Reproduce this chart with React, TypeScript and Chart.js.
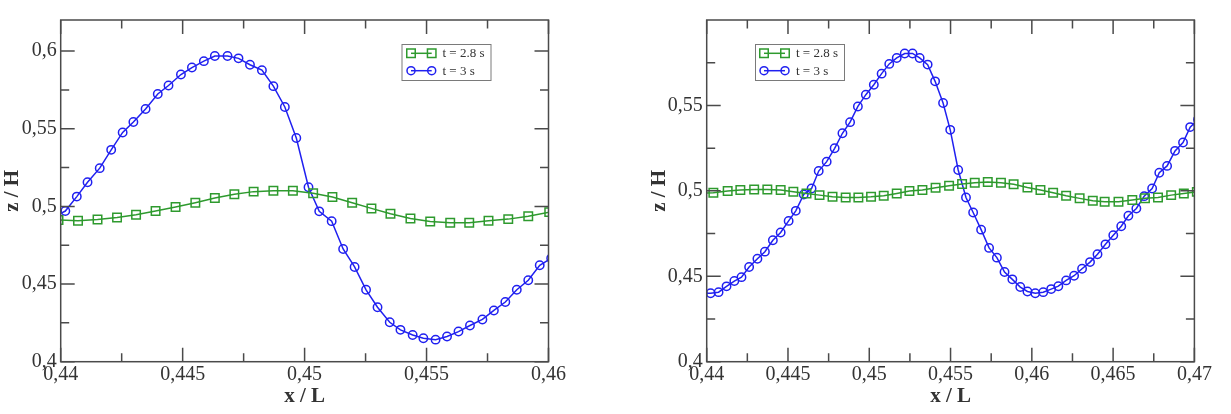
import React, { useEffect, useRef } from 'react';
import { Chart, registerables } from 'chart.js';

Chart.register(...registerables);

// ---------- data ----------
const LEGEND_LABELS = ['t = 2.8 s', 't = 3 s'];
const X_TITLE = 'x / L';
const Y_TITLE = 'z / H';

// Left panel
const LEFT_X_TICKS = [0.44, 0.445, 0.45, 0.455, 0.46];
const LEFT_X_MINOR = [0.4425, 0.4475, 0.4525, 0.4575];
const LEFT_Y_TICKS = [0.4, 0.45, 0.5, 0.55, 0.6];
const LEFT_Y_MINOR = [0.425, 0.475, 0.525, 0.575];

const LEFT_GREEN_X = [0.43991, 0.44071, 0.44151, 0.44231, 0.44309, 0.44389, 0.44471, 0.44552, 0.44632, 0.44712, 0.44791, 0.44872, 0.44952, 0.45035, 0.45114, 0.45195, 0.45274, 0.45352, 0.45434, 0.45515, 0.45597, 0.45675, 0.45754, 0.45835, 0.45917, 0.46003];
const LEFT_GREEN_Y = [0.4912, 0.4907, 0.4916, 0.4929, 0.4946, 0.4970, 0.4996, 0.5024, 0.5054, 0.5078, 0.5095, 0.5101, 0.5101, 0.5084, 0.5060, 0.5024, 0.4987, 0.4953, 0.4922, 0.4903, 0.4894, 0.4894, 0.4907, 0.4918, 0.4937, 0.4963];

const LEFT_BLUE_X = [0.43972, 0.44019, 0.44066, 0.44110, 0.44160, 0.44207, 0.44254, 0.44298, 0.44348, 0.44398, 0.44442, 0.44493, 0.44538, 0.44587, 0.44632, 0.44684, 0.44729, 0.44776, 0.44825, 0.44872, 0.44919, 0.44966, 0.45016, 0.45060, 0.45111, 0.45158, 0.45205, 0.45252, 0.45299, 0.45349, 0.45393, 0.45443, 0.45487, 0.45537, 0.45584, 0.45631, 0.45678, 0.45729, 0.45776, 0.45823, 0.45870, 0.45917, 0.45964, 0.46011];
const LEFT_BLUE_Y = [0.4933, 0.4970, 0.5063, 0.5155, 0.5246, 0.5364, 0.5476, 0.5543, 0.5627, 0.5724, 0.5778, 0.5849, 0.5894, 0.5935, 0.5968, 0.5968, 0.5953, 0.5912, 0.5877, 0.5774, 0.5640, 0.5440, 0.5123, 0.4968, 0.4905, 0.4726, 0.4610, 0.4463, 0.4351, 0.4254, 0.4205, 0.4172, 0.4151, 0.4142, 0.4162, 0.4194, 0.4233, 0.4272, 0.4330, 0.4384, 0.4463, 0.4524, 0.4621, 0.4666];

// Right panel
const RIGHT_X_TICKS = [0.44, 0.445, 0.45, 0.455, 0.46, 0.465, 0.47];
const RIGHT_X_MINOR = [0.4425, 0.4475, 0.4525, 0.4575, 0.4625, 0.4675];
const RIGHT_Y_TICKS = [0.4, 0.45, 0.5, 0.55];
const RIGHT_Y_MINOR = [0.425, 0.475, 0.525, 0.575];

const RIGHT_GREEN_X = [0.43961, 0.44041, 0.44129, 0.44207, 0.44292, 0.44373, 0.44455, 0.44533, 0.44614, 0.44694, 0.44774, 0.44855, 0.44933, 0.45011, 0.45089, 0.45169, 0.45247, 0.45327, 0.45408, 0.45491, 0.45571, 0.45649, 0.45729, 0.45810, 0.45888, 0.45973, 0.46053, 0.46131, 0.46211, 0.46294, 0.46375, 0.46448, 0.46533, 0.46618, 0.46696, 0.46776, 0.46857, 0.46935, 0.47015];
const RIGHT_GREEN_Y = [0.4985, 0.4989, 0.4999, 0.5005, 0.5008, 0.5008, 0.5005, 0.4995, 0.4985, 0.4975, 0.4965, 0.4961, 0.4961, 0.4965, 0.4971, 0.4985, 0.4999, 0.5005, 0.5018, 0.5030, 0.5040, 0.5048, 0.5052, 0.5048, 0.5038, 0.5020, 0.5005, 0.4989, 0.4971, 0.4956, 0.4942, 0.4936, 0.4936, 0.4946, 0.4956, 0.4961, 0.4975, 0.4985, 0.4994];

const RIGHT_BLUE_X = [0.43976, 0.44024, 0.44073, 0.44122, 0.44170, 0.44214, 0.44261, 0.44312, 0.44358, 0.44407, 0.44455, 0.44504, 0.44548, 0.44597, 0.44645, 0.44689, 0.44738, 0.44787, 0.44835, 0.44882, 0.44930, 0.44979, 0.45028, 0.45076, 0.45123, 0.45169, 0.45218, 0.45266, 0.45310, 0.45359, 0.45405, 0.45454, 0.45498, 0.45547, 0.45595, 0.45639, 0.45688, 0.45737, 0.45785, 0.45832, 0.45880, 0.45929, 0.45973, 0.46021, 0.46070, 0.46119, 0.46163, 0.46211, 0.46260, 0.46309, 0.46358, 0.46404, 0.46453, 0.46501, 0.46550, 0.46594, 0.46643, 0.46691, 0.46740, 0.46784, 0.46832, 0.46881, 0.46930, 0.46974, 0.47022];
const RIGHT_BLUE_Y = [0.4400, 0.4401, 0.4407, 0.4441, 0.4472, 0.4495, 0.4554, 0.4603, 0.4644, 0.4711, 0.4756, 0.4824, 0.4883, 0.4979, 0.5014, 0.5116, 0.5171, 0.5249, 0.5337, 0.5402, 0.5494, 0.5563, 0.5621, 0.5686, 0.5743, 0.5778, 0.5804, 0.5804, 0.5778, 0.5739, 0.5641, 0.5514, 0.5357, 0.5122, 0.4961, 0.4873, 0.4773, 0.4666, 0.4609, 0.4525, 0.4482, 0.4437, 0.4411, 0.4401, 0.4407, 0.4425, 0.4442, 0.4476, 0.4503, 0.4544, 0.4583, 0.4629, 0.4687, 0.4740, 0.4793, 0.4854, 0.4897, 0.4969, 0.5014, 0.5106, 0.5146, 0.5234, 0.5283, 0.5373, 0.5418];

// ---------- styles ----------
const SERIF = "'Liberation Serif', 'Times New Roman', serif";
const FRAME = '#4a4a4a';
const TEXT = '#333333';
const GREEN = '#2e9a2e';
const BLUE = '#2020f0';

const fmt = (v: number) => String(Number(Number(v).toFixed(4))).replace('.', ',');
const pts = (xs: number[], ys: number[]) => xs.map((x, i) => ({ x, y: ys[i] }));

type PanelCfg = {
  width: number;
  plotLeft: number;
  plotRight: number;
  plotTop: number;
  plotBottom: number;
  xMin: number; xMax: number; yMin: number; yMax: number;
  xTicks: number[]; xMinor: number[]; yTicks: number[]; yMinor: number[];
  greenX: number[]; greenY: number[]; blueX: number[]; blueY: number[];
  yTitleCenter: number;
  legend: { x: number; y: number; w: number; h: number; m1: number; m2: number; tx: number; rows: number[] };
};

function drawMarker(ctx: CanvasRenderingContext2D, kind: string, x: number, y: number) {
  ctx.beginPath();
  if (kind === 'rect') {
    const s = 4.25;
    ctx.rect(x - s, y - s, 2 * s, 2 * s);
  } else {
    ctx.arc(x, y, 4, 0, Math.PI * 2);
  }
  ctx.stroke();
}

function makeChart(canvas: HTMLCanvasElement, c: PanelCfg) {
  const H = 414;
  const framePlugin = {
    id: 'frameTicks',
    afterDraw(chart: any) {
      const { ctx, chartArea: a, scales } = chart;
      const xs = scales.x, ys = scales.y;
      ctx.save();
      ctx.strokeStyle = FRAME;
      ctx.lineWidth = 1.5;
      ctx.beginPath();
      const xt = (vals: number[], len: number) => {
        for (const v of vals) {
          const p = xs.getPixelForValue(v);
          ctx.moveTo(p, a.bottom); ctx.lineTo(p, a.bottom - len);
          ctx.moveTo(p, a.top); ctx.lineTo(p, a.top + len);
        }
      };
      const yt = (vals: number[], len: number) => {
        for (const v of vals) {
          const p = ys.getPixelForValue(v);
          ctx.moveTo(a.left, p); ctx.lineTo(a.left + len, p);
          ctx.moveTo(a.right, p); ctx.lineTo(a.right - len, p);
        }
      };
      xt(c.xTicks, 14); xt(c.xMinor, 8.5);
      yt(c.yTicks, 14); yt(c.yMinor, 8.5);
      ctx.stroke();
      ctx.strokeRect(a.left, a.top, a.right - a.left, a.bottom - a.top);
      ctx.restore();
    },
  };
  const legendPlugin = {
    id: 'boxLegend',
    afterDraw(chart: any) {
      const { ctx } = chart;
      const L = c.legend;
      ctx.save();
      ctx.fillStyle = '#ffffff';
      ctx.fillRect(L.x, L.y, L.w, L.h);
      ctx.strokeStyle = '#7a7a7a';
      ctx.lineWidth = 1;
      ctx.strokeRect(L.x + 0.5, L.y + 0.5, L.w, L.h);
      chart.data.datasets.forEach((ds: any, i: number) => {
        const y = L.rows[i];
        ctx.strokeStyle = ds.borderColor;
        ctx.lineWidth = 1.5;
        ctx.beginPath();
        ctx.moveTo(L.m1, y); ctx.lineTo(L.m2, y);
        ctx.stroke();
        drawMarker(ctx, ds.pointStyle, L.m1, y);
        drawMarker(ctx, ds.pointStyle, L.m2, y);
        ctx.fillStyle = TEXT;
        ctx.font = `13px ${SERIF}`;
        ctx.textBaseline = 'middle';
        ctx.textAlign = 'left';
        ctx.fillText(ds.label, L.tx, y + 0.5);
      });
      ctx.restore();
    },
  };

  const tickFont = { family: SERIF, size: 20 };
  const titleSize = 21;
  const titleFont = { family: SERIF, size: titleSize, weight: 'bold' as const };
  const lineH = titleSize * 1.2;

  return new Chart(canvas, {
    type: 'line',
    data: {
      datasets: [
        {
          label: LEGEND_LABELS[0],
          data: pts(c.greenX, c.greenY),
          borderColor: GREEN,
          backgroundColor: 'rgba(0,0,0,0)',
          borderWidth: 1.5,
          pointStyle: 'rect',
          pointRadius: 6,
          pointBorderWidth: 1.5,
          pointBorderColor: GREEN,
          pointBackgroundColor: 'rgba(0,0,0,0)',
          tension: 0,
          clip: 0,
        },
        {
          label: LEGEND_LABELS[1],
          data: pts(c.blueX, c.blueY),
          borderColor: BLUE,
          backgroundColor: 'rgba(0,0,0,0)',
          borderWidth: 1.5,
          pointStyle: 'circle',
          pointRadius: 4.2,
          pointBorderWidth: 1.5,
          pointBorderColor: BLUE,
          pointBackgroundColor: 'rgba(0,0,0,0)',
          tension: 0,
          clip: 0,
        },
      ],
    },
    options: {
      responsive: false,
      animation: false,
      events: [],
      layout: { padding: { left: 0, top: c.plotTop, right: c.width - c.plotRight, bottom: 0 } },
      plugins: { legend: { display: false }, tooltip: { enabled: false } },
      scales: {
        x: {
          type: 'linear',
          min: c.xMin,
          max: c.xMax,
          grid: { display: false, drawTicks: false },
          border: { display: false },
          ticks: { font: tickFont, color: TEXT, padding: 1, maxRotation: 0, autoSkip: false, callback: (v: any) => fmt(v) },
          afterBuildTicks: (s: any) => { s.ticks = c.xTicks.map((v) => ({ value: v })); },
          afterFit: (s: any) => { s.height = H - c.plotBottom; },
          title: { display: true, text: X_TITLE, font: titleFont, color: TEXT, padding: { top: 0, bottom: 414 - 397 - lineH / 2 } },
        },
        y: {
          type: 'linear',
          min: c.yMin,
          max: c.yMax,
          grid: { display: false, drawTicks: false },
          border: { display: false },
          ticks: { font: tickFont, color: TEXT, padding: 4, autoSkip: false, callback: (v: any) => fmt(v) },
          afterBuildTicks: (s: any) => { s.ticks = c.yTicks.map((v) => ({ value: v })); },
          afterFit: (s: any) => { s.width = c.plotLeft; },
          title: { display: true, text: Y_TITLE, font: titleFont, color: TEXT, padding: { top: Math.max(0, c.yTitleCenter - lineH / 2), bottom: 0 } },
        },
      },
    },
    plugins: [framePlugin, legendPlugin],
  } as any);
}

const LEFT_CFG: PanelCfg = {
  width: 600,
  plotLeft: 60.7, plotRight: 548.5, plotTop: 20, plotBottom: 361.7,
  xMin: 0.44, xMax: 0.46, yMin: 0.4, yMax: 0.62,
  xTicks: LEFT_X_TICKS, xMinor: LEFT_X_MINOR, yTicks: LEFT_Y_TICKS, yMinor: LEFT_Y_MINOR,
  greenX: LEFT_GREEN_X, greenY: LEFT_GREEN_Y, blueX: LEFT_BLUE_X, blueY: LEFT_BLUE_Y,
  yTitleCenter: 13,
  legend: { x: 401.5, y: 44, w: 89, h: 36, m1: 411, m2: 431.7, tx: 442.5, rows: [53.3, 70.7] },
};

const RIGHT_CFG: PanelCfg = {
  width: 621,
  plotLeft: 96.7, plotRight: 584.4, plotTop: 20, plotBottom: 361.7,
  xMin: 0.44, xMax: 0.47, yMin: 0.4, yMax: 0.6,
  xTicks: RIGHT_X_TICKS, xMinor: RIGHT_X_MINOR, yTicks: RIGHT_Y_TICKS, yMinor: RIGHT_Y_MINOR,
  greenX: RIGHT_GREEN_X, greenY: RIGHT_GREEN_Y, blueX: RIGHT_BLUE_X, blueY: RIGHT_BLUE_Y,
  yTitleCenter: 50,
  legend: { x: 145, y: 44, w: 89, h: 36, m1: 154, m2: 175, tx: 186, rows: [53.3, 70.7] },
};

function Panel({ cfg, left }: { cfg: PanelCfg; left: number }) {
  const ref = useRef<HTMLCanvasElement | null>(null);
  useEffect(() => {
    if (!ref.current) return;
    const chart = makeChart(ref.current, cfg);
    return () => chart.destroy();
  }, [cfg]);
  return (
    <canvas
      ref={ref}
      width={cfg.width}
      height={414}
      style={{ position: 'absolute', left, top: 0, width: cfg.width, height: 414, display: 'block' }}
    />
  );
}

export default function App() {
  return (
    <div style={{ position: 'absolute', left: 0, top: 0, width: 1231, height: 414, background: '#ffffff', overflow: 'hidden' }}>
      <Panel cfg={LEFT_CFG} left={0} />
      <Panel cfg={RIGHT_CFG} left={610} />
    </div>
  );
}
